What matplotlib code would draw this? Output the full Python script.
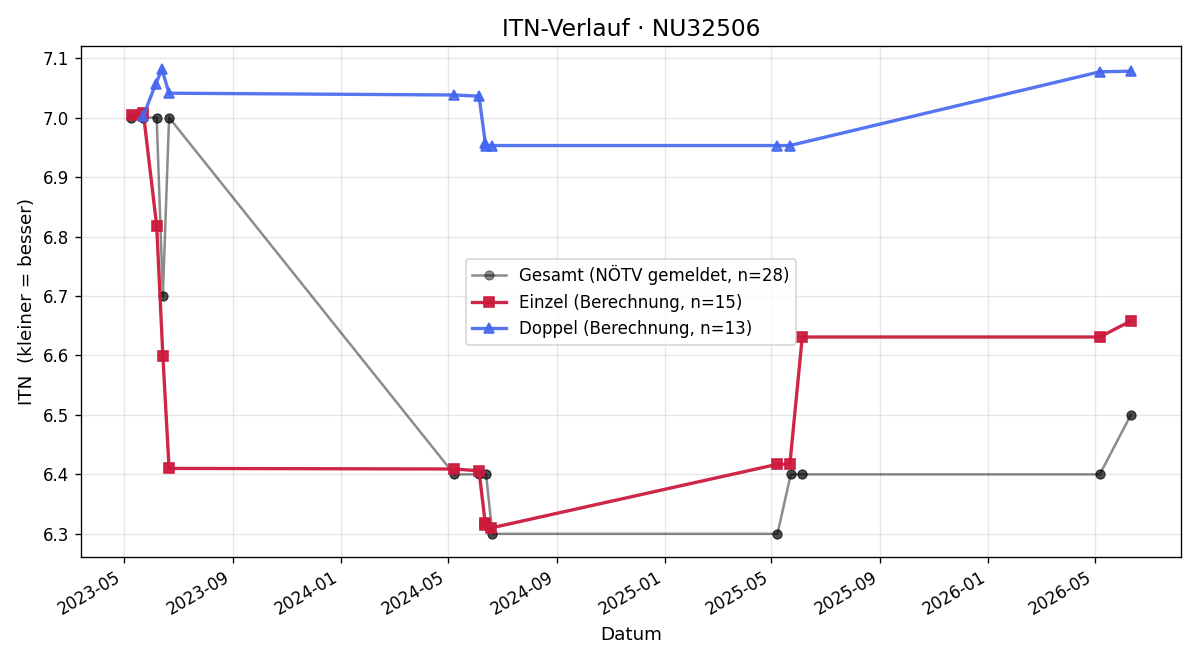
import pandas as pd
import numpy as np
import matplotlib
matplotlib.use("Agg")
import matplotlib.pyplot as plt
import matplotlib.dates as mdates

# Gesamt (NÖTV gemeldet) - two reports per date
gesamt_dates = ['2023-05-09', '2023-05-09', '2023-05-23', '2023-05-23', '2023-06-07', '2023-06-07',
                '2023-06-14', '2023-06-14', '2023-06-21', '2023-06-21',
                '2024-05-08', '2024-05-08', '2024-06-05', '2024-06-05', '2024-06-13', '2024-06-13',
                '2024-06-20', '2024-06-20',
                '2025-05-08', '2025-05-08', '2025-05-23', '2025-05-23', '2025-06-05', '2025-06-05',
                '2026-05-07', '2026-05-07', '2026-06-11', '2026-06-11']
gesamt_itn = [7.0, 7.0, 7.0, 7.0, 7.0, 7.0,
              6.7, 6.7, 7.0, 7.0,
              6.4, 6.4, 6.4, 6.4, 6.4, 6.4,
              6.3, 6.3,
              6.3, 6.3, 6.4, 6.4, 6.4, 6.4,
              6.4, 6.4, 6.5, 6.5]

einzel_dates = ['2023-05-10', '2023-05-23', '2023-06-07', '2023-06-14', '2023-06-21',
                '2024-05-08', '2024-06-05', '2024-06-12', '2024-06-12', '2024-06-19',
                '2025-05-08', '2025-05-22', '2025-06-05',
                '2026-05-07', '2026-06-11']
einzel_itn = [7.005, 7.007, 6.818, 6.599, 6.41,
              6.409, 6.406, 6.318, 6.315, 6.31,
              6.417, 6.417, 6.631,
              6.631, 6.658]

doppel_dates = ['2023-05-23', '2023-06-06', '2023-06-13', '2023-06-21',
                '2024-05-08', '2024-06-05', '2024-06-12', '2024-06-13', '2024-06-20',
                '2025-05-08', '2025-05-22',
                '2026-05-07', '2026-06-11']
doppel_itn = [7.003, 7.057, 7.081, 7.041,
              7.038, 7.036, 6.958, 6.953, 6.953,
              6.953, 6.953,
              7.077, 7.078]


def main():
    fig, ax = plt.subplots(figsize=(10, 5.5), dpi=120)

    ax.plot(pd.to_datetime(gesamt_dates), gesamt_itn, marker='o', color='black', alpha=0.45,
            linewidth=1.5, markersize=5.5, markeredgewidth=0.6, label='Gesamt (NÖTV gemeldet, n=28)')
    ax.plot(pd.to_datetime(einzel_dates), einzel_itn, marker='s', color='#cc1a3d', alpha=0.95,
            linewidth=2, markersize=6, label='Einzel (Berechnung, n=15)')
    ax.plot(pd.to_datetime(doppel_dates), doppel_itn, marker='^', color='#4466f0', alpha=0.9,
            linewidth=2, markersize=6, label='Doppel (Berechnung, n=13)')

    ax.set_title('ITN-Verlauf · NU32506', fontsize=14)
    ax.set_xlabel('Datum', fontsize=11)
    ax.set_ylabel('ITN  (kleiner = besser)', fontsize=11)
    ax.grid(True, alpha=0.3)
    ax.xaxis.set_major_locator(mdates.MonthLocator(bymonth=[1, 5, 9]))
    ax.xaxis.set_major_formatter(mdates.DateFormatter('%Y-%m'))
    ax.legend(loc='center')
    fig.autofmt_xdate()
    fig.subplots_adjust(left=0.0675, right=0.984, top=0.930, bottom=0.156)
    fig.savefig('out.png')


if __name__ == "__main__":
    main()
